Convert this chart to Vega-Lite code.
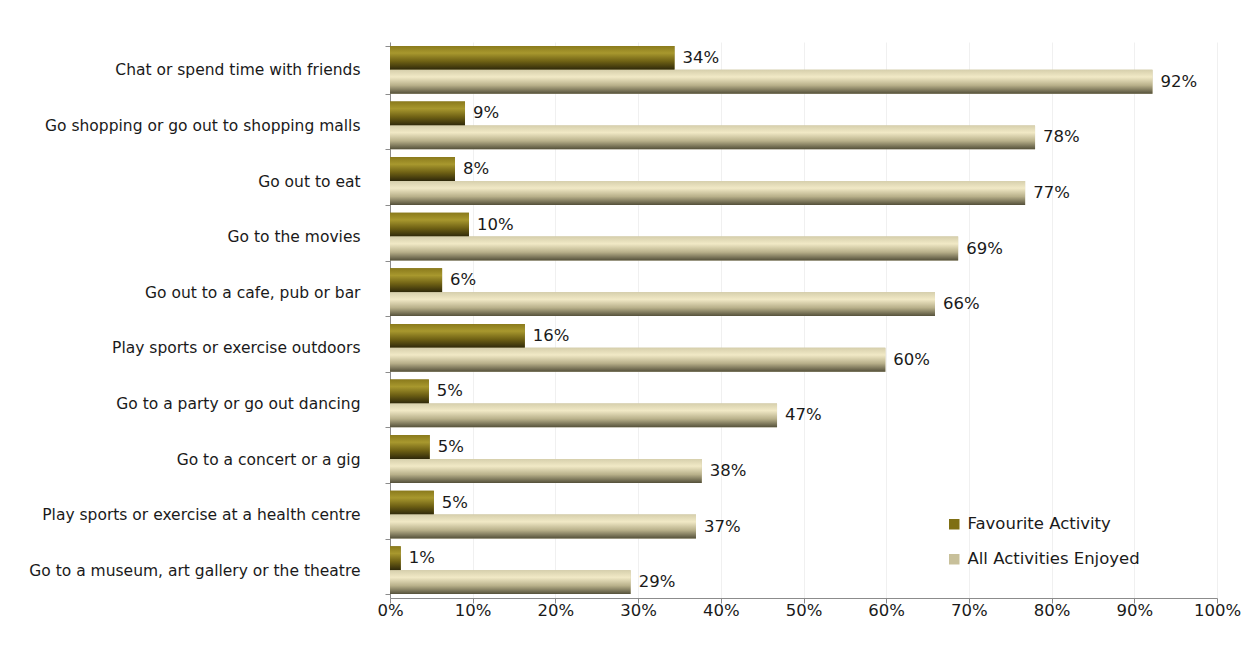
{
  "$schema": "https://vega.github.io/schema/vega-lite/v6.json",
  "width": 827,
  "height": 556,
  "autosize": "none",
  "padding": {"left": 390, "top": 42, "right": 28, "bottom": 70},
  "background": "white",
  "config": {
    "view": {"stroke": null},
    "font": "DejaVu Sans",
    "text": {"font": "DejaVu Sans"}
  },
  "data": {
    "values": [
      {"activity": "Chat or spend time with friends", "series": "Favourite Activity", "value": 0.344},
      {"activity": "Chat or spend time with friends", "series": "All Activities Enjoyed", "value": 0.922},
      {"activity": "Go shopping or go out to shopping malls", "series": "Favourite Activity", "value": 0.0907},
      {"activity": "Go shopping or go out to shopping malls", "series": "All Activities Enjoyed", "value": 0.78},
      {"activity": "Go out to eat ", "series": "Favourite Activity", "value": 0.0786},
      {"activity": "Go out to eat ", "series": "All Activities Enjoyed", "value": 0.768},
      {"activity": "Go to the movies", "series": "Favourite Activity", "value": 0.0955},
      {"activity": "Go to the movies", "series": "All Activities Enjoyed", "value": 0.687},
      {"activity": "Go out to a cafe,  pub or bar", "series": "Favourite Activity", "value": 0.063},
      {"activity": "Go out to a cafe,  pub or bar", "series": "All Activities Enjoyed", "value": 0.659},
      {"activity": "Play sports or exercise outdoors", "series": "Favourite Activity", "value": 0.163},
      {"activity": "Play sports or exercise outdoors", "series": "All Activities Enjoyed", "value": 0.599},
      {"activity": "Go to a party or go out dancing ", "series": "Favourite Activity", "value": 0.047},
      {"activity": "Go to a party or go out dancing ", "series": "All Activities Enjoyed", "value": 0.468},
      {"activity": "Go to a concert or a gig", "series": "Favourite Activity", "value": 0.048},
      {"activity": "Go to a concert or a gig", "series": "All Activities Enjoyed", "value": 0.377},
      {"activity": "Play sports or exercise at a health centre ", "series": "Favourite Activity", "value": 0.053},
      {"activity": "Play sports or exercise at a health centre ", "series": "All Activities Enjoyed", "value": 0.37},
      {"activity": "Go to a museum, art gallery or the theatre", "series": "Favourite Activity", "value": 0.013},
      {"activity": "Go to a museum, art gallery or the theatre", "series": "All Activities Enjoyed", "value": 0.291}
    ]
  },
  "encoding": {
    "y": {
      "field": "activity", "type": "nominal", "sort": null,
      "scale": {"paddingInner": 0.14, "paddingOuter": 0.07},
      "axis": {
        "title": null, "grid": false, "tickBand": "extent", "tickSize": 5,
        "domainColor": "#8c8c8c", "tickColor": "#8c8c8c",
        "labelFontSize": 15.5, "labelColor": "#1a1a1a", "labelPadding": 25,
        "labelFont": "DejaVu Sans", "labelLimit": 400
      }
    },
    "yOffset": {
      "field": "series", "type": "nominal",
      "sort": ["Favourite Activity", "All Activities Enjoyed"],
      "scale": {"domain": ["Favourite Activity", "All Activities Enjoyed"], "paddingInner": 0, "paddingOuter": 0}
    },
    "x": {
      "field": "value", "type": "quantitative",
      "scale": {"domain": [0, 1], "nice": false},
      "axis": {
        "title": null, "format": ".0%", "values": [0, 0.1, 0.2, 0.3, 0.4, 0.5, 0.6, 0.7, 0.8, 0.9, 1],
        "grid": true, "gridColor": "#f0f0f0", "tickSize": 5, "labelFlush": false,
        "domainColor": "#8c8c8c", "tickColor": "#8c8c8c",
        "labelFontSize": 16.5, "labelColor": "#1a1a1a", "labelPadding": -1,
        "labelFont": "DejaVu Sans"
      }
    }
  },
  "layer": [
    {
      "mark": {"type": "bar"},
      "encoding": {
        "color": {
          "field": "series", "type": "nominal",
          "scale": {"domain": ["Favourite Activity", "All Activities Enjoyed"], "range": ["#7f6f14", "#c8c09a"]},
          "legend": {
            "title": null, "orient": "none", "legendX": 556, "legendY": 474,
            "symbolType": "square", "symbolSize": 110, "labelFontSize": 16.5,
            "labelColor": "#1a1a1a", "rowPadding": 18, "labelOffset": 5, "labelFont": "DejaVu Sans",
            "labelLimit": 400
          }
        }
      }
    },
    {
      "transform": [{"filter": "datum.series === 'Favourite Activity'"}],
      "mark": {
        "type": "bar",
        "color": {
          "gradient": "linear", "x1": 0, "y1": 0, "x2": 0, "y2": 1,
          "stops": [
            {"offset": 0, "color": "#8a7a1c"},
            {"offset": 0.3, "color": "#a8982e"},
            {"offset": 0.65, "color": "#6e6014"},
            {"offset": 1, "color": "#2e280a"}
          ]
        }
      }
    },
    {
      "transform": [{"filter": "datum.series === 'All Activities Enjoyed'"}],
      "mark": {
        "type": "bar",
        "color": {
          "gradient": "linear", "x1": 0, "y1": 0, "x2": 0, "y2": 1,
          "stops": [
            {"offset": 0, "color": "#d6cfac"},
            {"offset": 0.3, "color": "#f1e9c6"},
            {"offset": 0.65, "color": "#b8b08a"},
            {"offset": 1, "color": "#54503a"}
          ]
        }
      }
    },
    {
      "mark": {"type": "text", "align": "left", "baseline": "middle", "dx": 8, "fontSize": 16.5, "color": "#1a1a1a", "font": "DejaVu Sans"},
      "encoding": {"text": {"field": "value", "type": "quantitative", "format": ".0%"}}
    }
  ]
}
